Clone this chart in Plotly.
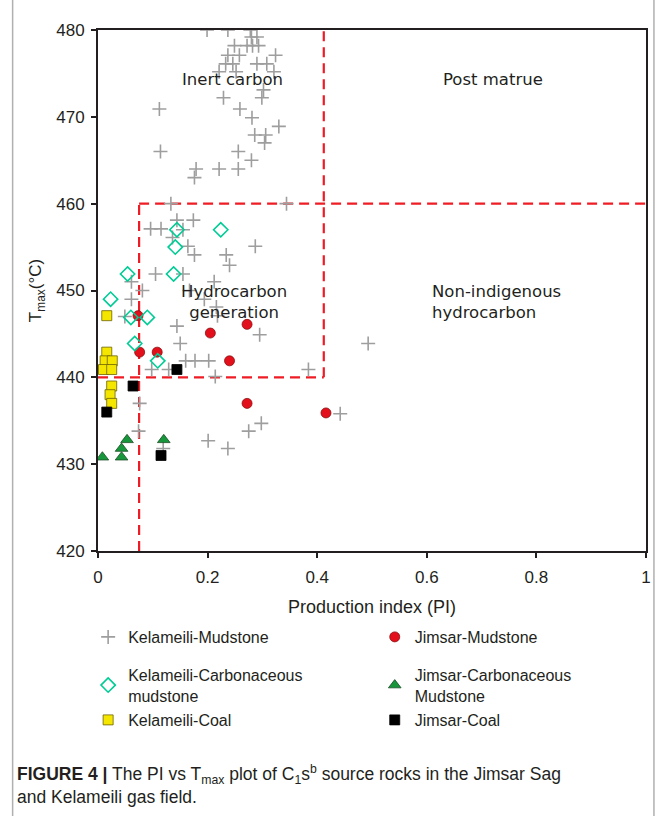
import plotly.graph_objects as go

# ---- Production index (PI) vs Tmax (°C) ----
kel_mud_pi = [0.199, 0.237, 0.278, 0.280, 0.290, 0.249, 0.272, 0.282, 0.293,
              0.237, 0.258, 0.324, 0.233, 0.246, 0.290, 0.308, 0.221, 0.252, 0.321,
              0.302, 0.229, 0.299, 0.112, 0.259, 0.281, 0.330, 0.286, 0.306, 0.304,
              0.114, 0.256, 0.280, 0.179, 0.221, 0.256, 0.176, 0.133, 0.344,
              0.144, 0.174, 0.096, 0.115, 0.155, 0.136, 0.164, 0.287, 0.176, 0.234,
              0.240, 0.105, 0.155, 0.061, 0.212, 0.081, 0.167, 0.061, 0.194, 0.216,
              0.049, 0.218, 0.144, 0.295, 0.150, 0.493, 0.160, 0.177, 0.202,
              0.098, 0.129, 0.384, 0.214,
              0.076, 0.074, 0.201, 0.237, 0.275, 0.298, 0.442, 0.119]
kel_mud_t = [480.0, 480.0, 480.0, 479.2, 479.2, 478.2, 478.2, 478.2, 478.2,
             477.1, 477.1, 477.1, 476.1, 476.1, 476.1, 476.1, 475.2, 475.2, 475.2,
             473.1, 472.2, 472.2, 470.9, 470.9, 469.9, 468.9, 467.9, 467.9, 467.0,
             466.0, 466.0, 465.0, 464.0, 464.0, 464.0, 463.0, 460.0, 460.0,
             458.1, 458.1, 457.1, 457.1, 457.0, 456.1, 455.1, 455.1, 454.1, 454.1,
             452.9, 451.9, 451.9, 451.0, 451.0, 450.0, 450.0, 449.0, 449.0, 448.1,
             447.0, 447.1, 445.9, 444.9, 443.9, 443.9, 441.9, 441.9, 441.9,
             440.9, 440.9, 440.9, 440.1,
             437.0, 433.8, 432.7, 431.8, 433.8, 434.7, 435.8, 431.8]

kel_carb_pi = [0.144, 0.224, 0.141, 0.054, 0.138, 0.023, 0.060, 0.090, 0.067, 0.109]
kel_carb_t = [457.0, 457.0, 455.0, 451.9, 451.9, 449.0, 446.9, 446.9, 443.9, 441.9]

kel_coal_pi = [0.016, 0.016, 0.013, 0.026, 0.010, 0.025, 0.025, 0.022, 0.025]
kel_coal_t = [447.1, 442.9, 441.9, 441.9, 440.9, 440.9, 439.0, 438.0, 437.0]

jim_mud_pi = [0.073, 0.272, 0.205, 0.076, 0.108, 0.240, 0.272, 0.416]
jim_mud_t = [447.1, 446.1, 445.1, 442.9, 442.9, 441.9, 437.0, 435.9]

jim_carb_pi = [0.008, 0.043, 0.043, 0.053, 0.120]
jim_carb_t = [430.8, 430.8, 431.8, 432.8, 432.8]

jim_coal_pi = [0.064, 0.016, 0.115, 0.144]
jim_coal_t = [439.0, 436.0, 431.0, 440.9]

x_ticks = [0, 0.2, 0.4, 0.6, 0.8, 1]
x_tick_text = ["0", "0.2", "0.4", "0.6", "0.8", "1"]
y_ticks = [420, 430, 440, 450, 460, 470, 480]

# zone boundaries (PI, Tmax)
pi_low, pi_high = 0.075, 0.412
t_low, t_high = 440, 460

FONT = "Liberation Sans, Arial, sans-serif"
TXT = "#231f20"

fig = go.Figure()

fig.add_trace(go.Scatter(
    x=kel_mud_pi, y=kel_mud_t, mode="markers", name="Kelameili-Mudstone",
    legend="legend", legendgroup="a",
    marker=dict(symbol="cross-thin", size=10, line=dict(color="#9e9e9e", width=1.6))))
fig.add_trace(go.Scatter(
    x=jim_mud_pi, y=jim_mud_t, mode="markers", name="Jimsar-Mudstone",
    legend="legend2", legendgroup="d",
    marker=dict(symbol="circle", size=10, color="#e3101c", line=dict(color="#8a1010", width=0.8))))
fig.add_trace(go.Scatter(
    x=kel_carb_pi, y=kel_carb_t, mode="markers", name="Kelameili-Carbonaceous<br>mudstone",
    legend="legend", legendgroup="b",
    marker=dict(symbol="diamond-open", size=11, line=dict(color="#1a96e8", width=1.6))))
fig.add_trace(go.Scatter(
    x=jim_carb_pi, y=jim_carb_t, mode="markers", name="Jimsar-Carbonaceous<br>Mudstone",
    legend="legend2", legendgroup="e",
    marker=dict(symbol="triangle-up", size=11, color="#17963c", line=dict(color="#1b4d25", width=0.8))))
fig.add_trace(go.Scatter(
    x=kel_coal_pi, y=kel_coal_t, mode="markers", name="Kelameili-Coal",
    legend="legend3", legendgroup="c",
    marker=dict(symbol="square", size=10, color="#f5e600", line=dict(color="#6b6200", width=0.8))))
fig.add_trace(go.Scatter(
    x=jim_coal_pi, y=jim_coal_t, mode="markers", name="Jimsar-Coal",
    legend="legend4", legendgroup="f",
    marker=dict(symbol="square", size=10, color="#000000", line=dict(color="#000000", width=0.8))))

dash = dict(color="#ee1c24", width=2.2, dash="10px,6px")
for x0, y0, x1, y1 in [(pi_high, t_low, pi_high, 480), (pi_low, t_high, 1, t_high),
                       (pi_low, 420, pi_low, t_high), (0, t_low, pi_high, t_low)]:
    fig.add_shape(type="line", x0=x0, y0=y0, x1=x1, y1=y1, xref="x", yref="y",
                  line=dash, layer="below")

zone_font = dict(family="DejaVu Sans, sans-serif", size=16.5, color=TXT)
fig.add_annotation(x=0.245, y=474.3, text="Inert carbon", showarrow=False, font=zone_font)
fig.add_annotation(x=0.72, y=474.3, text="Post matrue", showarrow=False, font=zone_font)
fig.add_annotation(x=0.248, y=448.7, text="Hydrocarbon<br>generation", showarrow=False,
                   font=zone_font, align="center")
fig.add_annotation(x=0.605, y=448.7, text="Non-indigenous<br>hydrocarbon", showarrow=False,
                   font=zone_font, align="left", xanchor="left")

# outer frame of the figure panel
fig.add_shape(type="rect", xref="paper", yref="paper", x0=-0.1558, x1=1.0145,
              y0=-0.6, y1=1.2, line=dict(color="#b0b0b0", width=1.5), layer="below")

fig.add_annotation(
    xref="paper", yref="paper", x=-0.152, y=-0.402, xanchor="left", yanchor="top",
    align="left", showarrow=False,
    text="<b>FIGURE 4 |</b> The PI vs T<sub>max</sub> plot of C<sub>1</sub>s<sup>b</sup> "
         "source rocks in the Jimsar Sag<br>and Kelameili gas field.",
    font=dict(family=FONT, size=17.5, color=TXT))

axis_common = dict(showline=True, linecolor="#231f20", linewidth=2, mirror=True,
                   ticks="outside", ticklen=5, tickwidth=1.5, tickcolor="#231f20",
                   showgrid=False, zeroline=False,
                   tickfont=dict(family=FONT, size=17, color=TXT))

leg_font = dict(family=FONT, size=16, color=TXT)
leg_common = dict(xanchor="left", yanchor="top", tracegroupgap=14, font=leg_font,
                  bgcolor="rgba(0,0,0,0)")

fig.update_layout(
    width=663, height=816,
    margin=dict(l=98, r=13, t=30, b=265),
    paper_bgcolor="white", plot_bgcolor="white",
    font=dict(family=FONT, color=TXT),
    xaxis=dict(range=[0, 1], tickvals=x_ticks, ticktext=x_tick_text, ticklabelstandoff=5,
               title=dict(text="Production index (PI)", standoff=14,
                          font=dict(family=FONT, size=18, color=TXT)),
               **axis_common),
    yaxis=dict(range=[420, 480], tickvals=y_ticks, ticklabelstandoff=3,
               title=dict(text="T<sub>max</sub>(°C)", standoff=10,
                          font=dict(family=FONT, size=17, color=TXT)),
               **axis_common),
    legend=dict(x=-0.018, y=-0.1324, **leg_common),
    legend2=dict(x=0.505, y=-0.1324, **leg_common),
    legend3=dict(x=-0.018, y=-0.2917, **leg_common),
    legend4=dict(x=0.505, y=-0.2917, **leg_common),
)

fig.write_html("out.html")
